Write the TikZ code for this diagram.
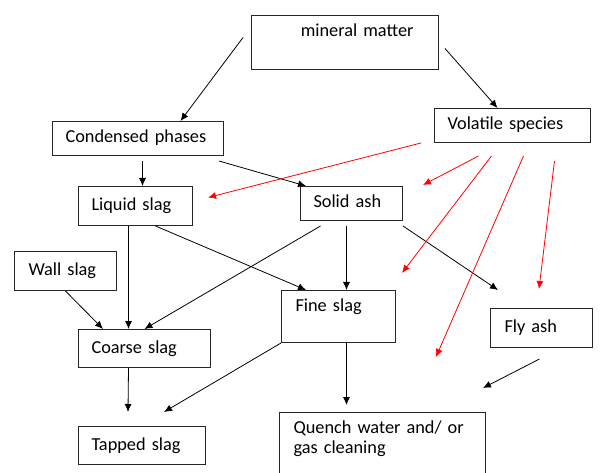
\documentclass[tikz,border=0pt]{standalone}
\usepackage{fontspec}
\setmainfont{Carlito}
\usepackage{tikz}
\usetikzlibrary{arrows.meta}

\begin{document}
\begin{tikzpicture}[
  x=1pt,y=-1pt,
  box/.style={rectangle,draw=black!85,line width=1pt,anchor=north west,align=left,inner xsep=13pt,inner ysep=8pt,text height=13pt,text depth=4pt,font=\fontsize{18.3}{20}\selectfont},
  arrow/.style={-{Latex[length=8pt,width=7pt]},line width=0.8pt,color=black},
  redarrow/.style={arrow,color=red}
]
\useasboundingbox (0,0) rectangle (600,473);
\clip (0,0) rectangle (600,473);
\node[box,text width=137pt,inner xsep=25pt,align=right,text depth=25pt] (mineral) at (251,15) {mineral matter};
\node[box,text width=130pt,minimum height=34pt] (volatile) at (434,108) {Volatile species};
\node[box,text width=145pt,minimum height=34pt] (condensed) at (52,121) {Condensed phases};
\node[box,text width=88pt,minimum height=39pt] (liquid) at (78,186) {Liquid slag};
\node[box,text width=76pt,minimum height=34pt] (solid) at (300,186) {Solid ash};
\node[box,text width=74pt,inner xsep=14pt,minimum height=39pt] (wall) at (14,251) {Wall slag};
\node[box,text width=106pt,minimum height=38pt] (coarse) at (78,329) {Coarse slag};
\node[box,text width=86pt,inner xsep=14pt,text depth=23pt] (fine) at (281,290) {Fine slag};
\node[box,text width=74pt,inner xsep=14pt,minimum height=39pt] (fly) at (490,308) {Fly ash};
\node[box,text width=101pt,minimum height=38pt] (tapped) at (78,426) {Tapped slag};
\node[box,text width=178pt,inner xsep=14pt,text depth=51pt] (quench) at (279,412) {Quench water and/ or\\gas cleaning};
\coordinate (flyin) at (498,290);
\coordinate (tapleft) at (128,412);
\coordinate (tapright) at (164,412);
\coordinate (flyend) at (483,388);
\coordinate (redsolid) at (423,185);
\coordinate (redfine) at (402,273);
\coordinate (redquench) at (436,357);
\coordinate (redfly) at (539,289);
\draw[arrow] ([xshift=-8pt,yshift=5pt]mineral.west) -- ([xshift=42.5pt]condensed.north);
\draw[arrow] ([xshift=6pt,yshift=-6pt]mineral.east) -- ([xshift=-15pt]volatile.north);
\draw[arrow] ([xshift=4.5pt,yshift=-5pt]condensed.south) -- ([xshift=7pt]liquid.north);
\draw[arrow] ([xshift=-5pt,yshift=-5pt]condensed.south east) -- ([xshift=6pt]solid.north west);
\draw[arrow] ([xshift=-7pt]liquid.south) -- ([xshift=-16pt]coarse.north);
\draw[arrow] ([xshift=20pt]liquid.south) -- ([xshift=25pt]fine.north west);
\draw[arrow] ([xshift=-31pt,yshift=-5pt]solid.south) -- (coarse.north);
\draw[arrow] ([xshift=-5pt,yshift=-5pt]solid.south) -- ([xshift=8pt]fine.north);
\draw[arrow] ([yshift=-5pt]solid.south east) -- (flyin);
\draw[arrow] (wall.south) -- ([xshift=25pt]coarse.north west);
\draw[arrow] ([xshift=-16pt]coarse.south) -- (tapleft);
\draw[arrow] (fine.south west) -- (tapright);
\draw[arrow] ([xshift=8pt]fine.south) -- ([xshift=-36pt,yshift=7pt]quench.north);
\draw[arrow] ([xshift=-2pt,yshift=-11pt]fly.south) -- (flyend);
\draw[redarrow] ([xshift=-13pt]volatile.south west) -- ([xshift=15pt,yshift=8.5pt]liquid.east);
\draw[redarrow] ([xshift=-34pt,yshift=-13pt]volatile.south) -- (redsolid);
\draw[redarrow] ([xshift=-21pt,yshift=-13pt]volatile.south) -- (redfine);
\draw[redarrow] ([xshift=11pt,yshift=-13pt]volatile.south) -- (redquench);
\draw[redarrow] ([xshift=42pt,yshift=-18pt]volatile.south) -- (redfly);
\end{tikzpicture}
\end{document}
